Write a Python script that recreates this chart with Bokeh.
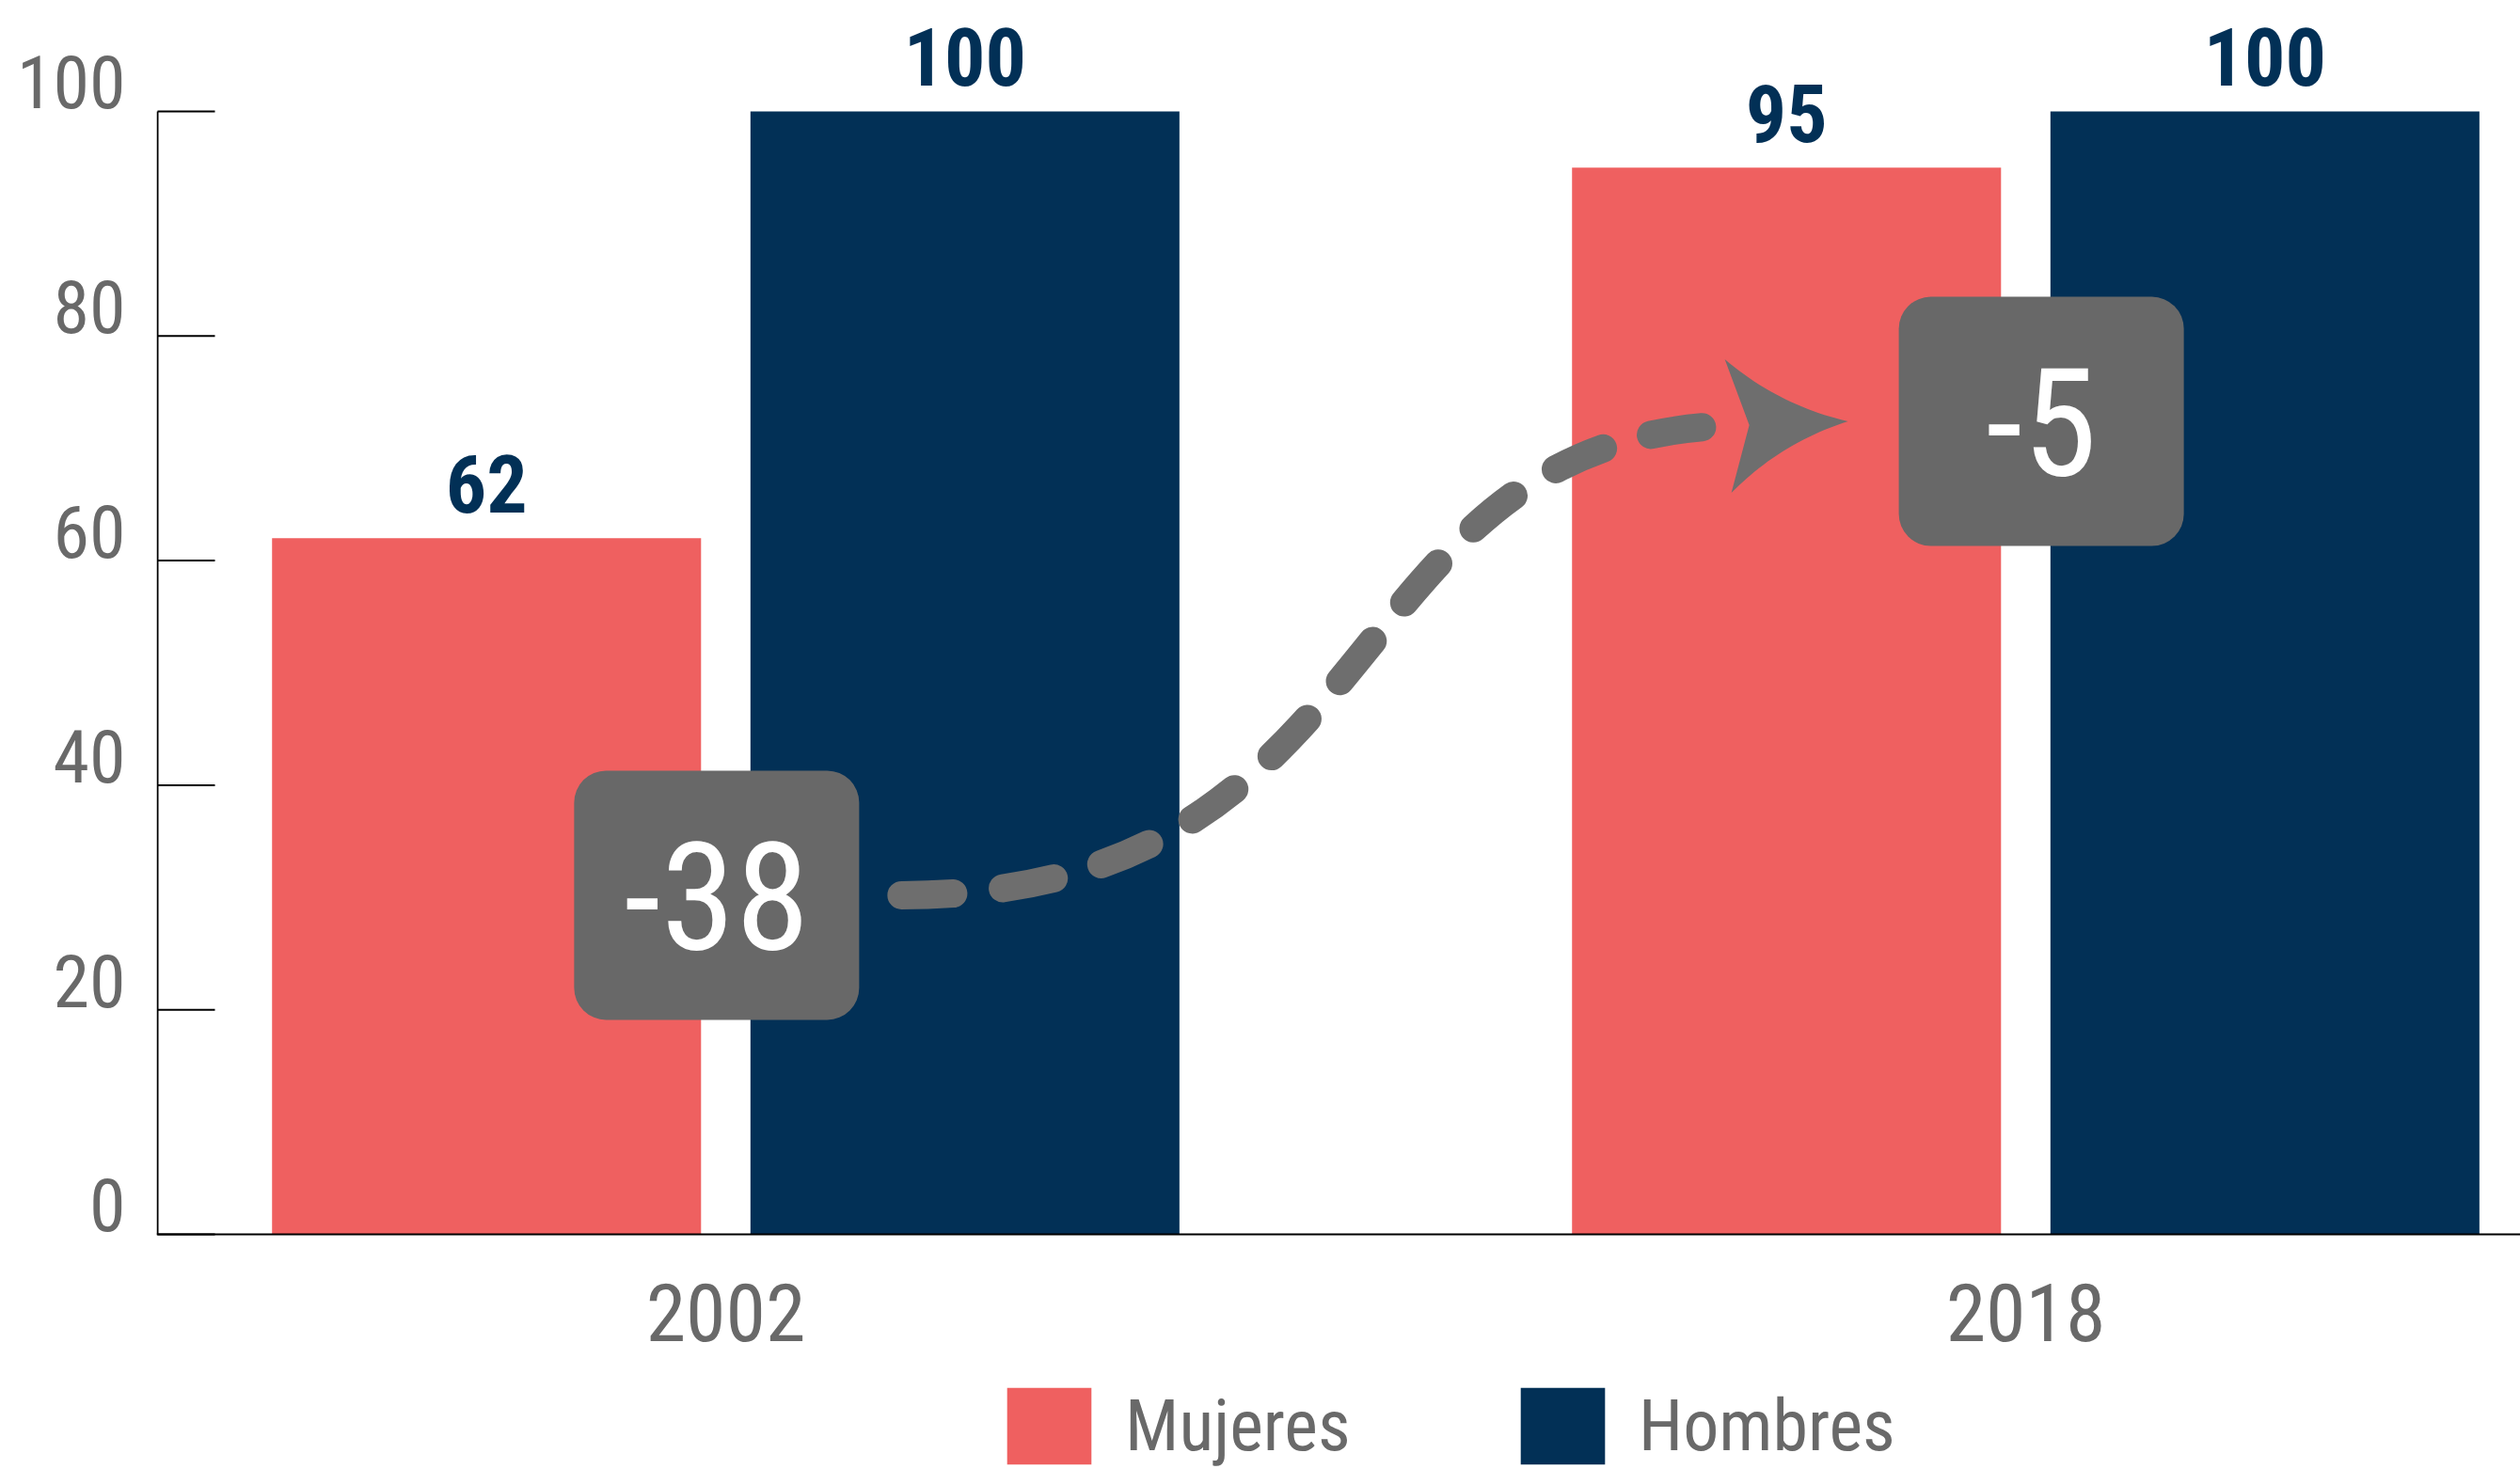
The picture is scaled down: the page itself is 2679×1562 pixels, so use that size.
import numpy as np
from bokeh.plotting import figure
from bokeh.models import (ColumnDataSource, Range1d, FixedTicker,
                          Legend, LegendItem)
from bokeh.transform import dodge
from bokeh.core.properties import value
from bokeh.embed import file_html
from bokeh.resources import INLINE

# ---------------- data ----------------
years = ["2002", "2018"]
series = ["Mujeres", "Hombres"]
mujeres = [62, 95]
hombres = [100, 100]
y_ticks = [0, 20, 40, 60, 80, 100]

# gap annotations (Mujeres - Hombres)
gap_values = [m - h for m, h in zip(mujeres, hombres)]
gap_box_y = [30.2, 72.4]      # vertical centre of each gap box (data units)
gap_box_dx = [-0.007, 0.012]  # horizontal shift of each box from its group centre

# ---------------- style ----------------
FONT = "'Liberation Sans Narrow', 'Roboto Condensed', 'DejaVu Sans Condensed', sans-serif"
C_M = "#EF6060"
C_H = "#023056"
GRAY_TXT = "#696969"
BOX = "#686868"
ARROW = "#6E6E6E"

W, H = 2679, 1562
LEFT = 166
X0 = -0.4378
PX_X = 1382.0          # pixels per group
PX_Y = 11.94           # pixels per unit of value
BASE_PX = 1312         # vertical pixel of value 0
X1 = X0 + (W - LEFT) / PX_X
Y1 = BASE_PX / PX_Y
Y0 = -(H - BASE_PX) / PX_Y
px_x = (W - LEFT) / (X1 - X0)
px_y = H / (Y1 - Y0)

p = figure(width=W, height=H, x_range=Range1d(X0, X1), y_range=Range1d(Y0, Y1),
           output_backend="svg", toolbar_location=None,
           min_border_left=LEFT, min_border_right=0, min_border_top=0,
           min_border_bottom=0)
p.outline_line_color = None
p.xgrid.visible = False
p.ygrid.visible = False
p.xaxis.visible = False
p.background_fill_color = "white"
p.border_fill_color = "white"

xpos = list(range(len(years)))
src = ColumnDataSource(dict(x=xpos, year=years, m=mujeres, h=hombres,
                            m_lbl=[str(v) for v in mujeres],
                            h_lbl=[str(v) for v in hombres],
                            zero=[0] * len(years)))

OFF, BW = 0.184, 0.33
rm = p.vbar(x=dodge("x", -OFF), top="m", bottom=0, width=BW, source=src,
            fill_color=C_M, line_color=None)
rh = p.vbar(x=dodge("x", OFF), top="h", bottom=0, width=BW, source=src,
            fill_color=C_H, line_color=None)

for col, lbl, off in [("m", "m_lbl", -OFF), ("h", "h_lbl", OFF)]:
    p.text(x=dodge("x", off), y=col, text=lbl, source=src,
           text_align="center", text_baseline="middle", y_offset=-58,
           text_font=value(FONT), text_font_size="86px", text_font_style="bold",
           text_color=C_H)

# ---------------- axis lines, inner ticks, category labels ----------------
ax_x = X0 + 1.0 / px_x
tick_len = 61 / px_x
p.segment(x0=[ax_x], y0=[min(y_ticks)], x1=[ax_x], y1=[max(y_ticks)],
          line_color="black", line_width=2)
p.segment(x0=[ax_x] * len(y_ticks), y0=y_ticks,
          x1=[ax_x + tick_len] * len(y_ticks), y1=y_ticks,
          line_color="black", line_width=2)
p.segment(x0=[X0], y0=[0], x1=[X1], y1=[0], line_color="black", line_width=2)
p.text(x="x", y="zero", text="year", source=src, text_align="center",
       text_baseline="middle", y_offset=83, text_font=value(FONT),
       text_font_size="86px", text_color=GRAY_TXT)

# ---------------- gap boxes ----------------
box_w = 303 / px_x
box_h = 265 / px_y
gx = np.array(xpos, dtype=float) + np.array(gap_box_dx)
gy = np.array(gap_box_y)
gsrc = ColumnDataSource(dict(left=gx - box_w / 2, right=gx + box_w / 2,
                             top=gy + box_h / 2, bottom=gy - box_h / 2,
                             x=gx, y=gy, t=[f"{v:d}" for v in gap_values]))
p.quad(left="left", right="right", top="top", bottom="bottom", source=gsrc,
       fill_color=BOX, line_color=None, border_radius=34)
p.text(x="x", y="y", text="t", source=gsrc, text_align="center",
       text_baseline="middle", text_font=value(FONT), text_font_size="160px",
       text_color="white")

# ---------------- curved dashed arrow ----------------
sx0 = gx[0] + box_w / 2 + 45 / px_x
sy0 = gy[0]
tip_x = gx[1] - box_w / 2 - 54 / px_x
tip_y = gy[1]
ex = tip_x - 105 / px_x
ey = tip_y - 4 / px_y
dxs = ex - sx0
p.bezier(x0=[sx0], y0=[sy0], x1=[ex], y1=[ey],
         cx0=[sx0 + 0.6 * dxs], cy0=[sy0], cx1=[ex - 0.5 * dxs], cy1=[ey],
         line_color=ARROW, line_width=30, line_dash="55 53", line_cap="round")

def qcurve(a, c, b, n=24):
    t = np.linspace(0, 1, n)[:, None]
    return (1 - t) ** 2 * a + 2 * (1 - t) * t * c + t ** 2 * b

tip = np.array([0.0, 0.0])
ub = np.array([-131.0, 66.0])
lb = np.array([-124.0, -76.0])
notch = np.array([-105.0, -4.0])
cu = (tip + ub) / 2 + np.array([-8.0, -16.0])
cl = (tip + lb) / 2 + np.array([-9.4, 15.4])
pts = np.vstack([qcurve(tip, cu, ub), notch[None, :], qcurve(lb, cl, tip)])
p.patch(x=tip_x + pts[:, 0] / px_x, y=tip_y + pts[:, 1] / px_y,
        fill_color=ARROW, line_color=None)

# ---------------- y axis (labels sit on their tick) ----------------
SHIFT = 2.6
ya = p.yaxis[0]
ya.ticker = FixedTicker(ticks=[v + SHIFT for v in y_ticks])
ya.major_label_overrides = {v + SHIFT: str(v) for v in y_ticks}
ya.axis_line_color = None
ya.major_tick_line_color = None
ya.minor_tick_line_color = None
ya.major_tick_in = 0
ya.major_tick_out = 0
ya.major_label_standoff = 33
ya.major_label_text_font = FONT
ya.major_label_text_font_size = "78px"
ya.major_label_text_color = GRAY_TXT

# ---------------- legend ----------------
GLYPH_H = 102
legend = Legend(items=[LegendItem(label=series[0], renderers=[rm]),
                       LegendItem(label=series[1], renderers=[rh])],
                orientation="horizontal", location=(893, -5),
                glyph_width=112, glyph_height=GLYPH_H, label_standoff=25,
                label_width=409, spacing=0, padding=0, margin=0,
                border_line_color=None, background_fill_alpha=0,
                label_text_font=FONT, label_text_font_size="76px",
                label_text_color=GRAY_TXT)
p.add_layout(legend, "center")

open("out.html", "w").write(file_html(p, INLINE))
